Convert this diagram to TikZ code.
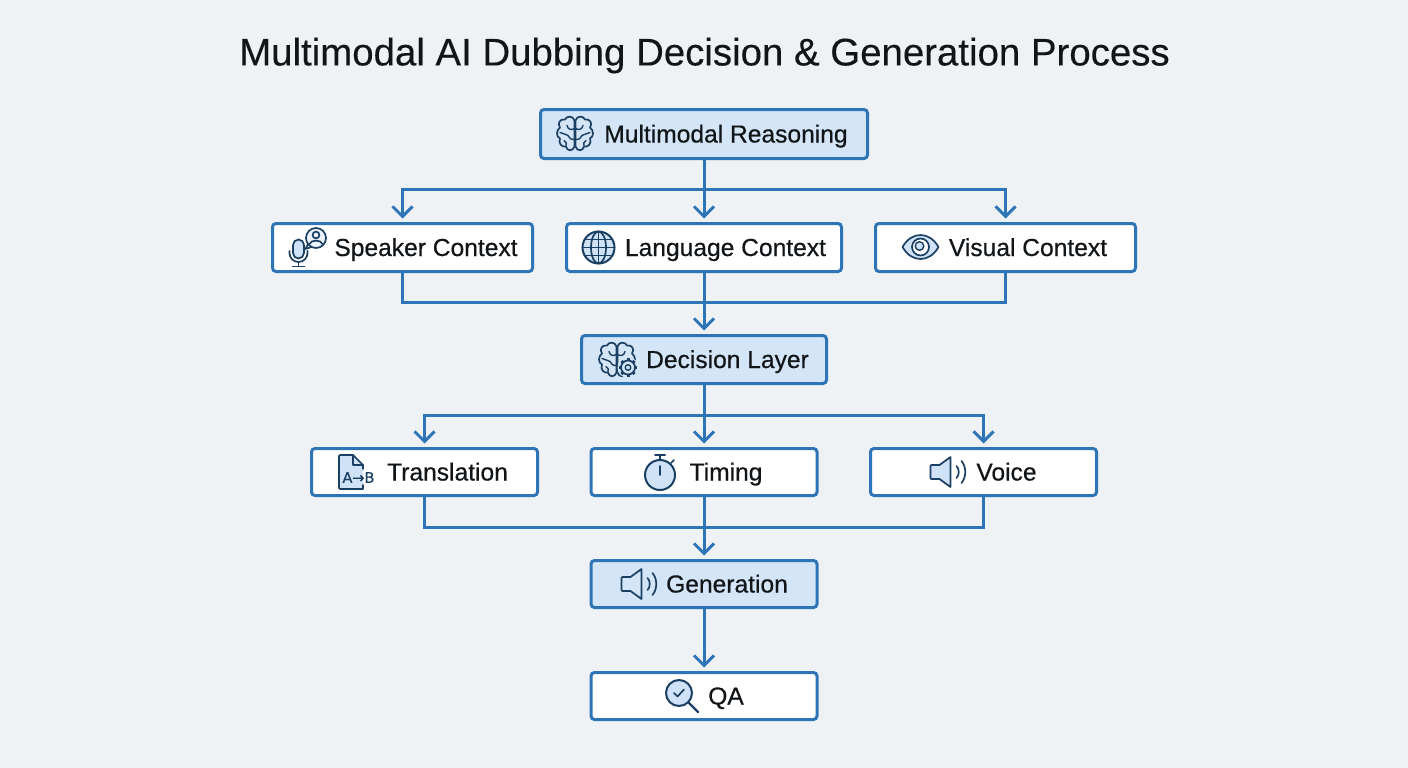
\documentclass[tikz,border=0pt]{standalone}
\usepackage{fontspec}
\usetikzlibrary{arrows.meta}
\setmainfont{Liberation Sans}
\newfontfamily\labfont[FakeBold=0.5]{Liberation Sans}
\newfontfamily\titlefont[FakeBold=0.25]{Liberation Sans}
\newfontfamily\djvfont[FakeBold=0.6]{DejaVu Sans}
\definecolor{bgcol}{HTML}{EEF2F4}
\definecolor{linecol}{HTML}{2E75B8}
\definecolor{hlcol}{HTML}{D4E5F7}
\definecolor{iconcol}{HTML}{1B3F62}
\definecolor{iconfill}{HTML}{CFE2F7}
\definecolor{inkcol}{HTML}{111518}
\tikzset{
  box/.style={draw=linecol,line width=3pt,rounded corners=3.5pt,inner sep=0pt,outer sep=0pt,
    text=inkcol,font=\labfont\fontsize{24.6pt}{28pt}\selectfont,minimum height=49pt,
    text height=20pt,text depth=3pt},
  plainbox/.style={box,fill=white},
  hlbox/.style={box,fill=hlcol},
  conn/.style={draw=linecol,line width=3pt},
  arr/.style={conn,-{Straight Barb[length=10pt,width=20pt,line width=3pt]},shorten >=5pt},
  ic/.style={draw=iconcol,line width=1.7pt,line join=round,line cap=round},
  icthin/.style={draw=iconcol,line width=1.4pt,line join=round,line cap=round},
}
\newcommand{\halfbrain}{%
  \draw[ic] (0.5,-13) .. controls (2,-18) and (8,-18) .. (10,-14)
    .. controls (15,-15) and (18,-10) .. (15,-6)
    .. controls (19,-3) and (19,3) .. (15,5)
    .. controls (17,10) and (13,14) .. (9,13)
    .. controls (8,18) and (2,18) .. (0.5,13) -- cycle;
  \draw[icthin] (0.5,-5) .. controls (4,-3) and (7,-4) .. (8,-8);
  \draw[icthin] (15,-1) .. controls (12,1) and (9,0) .. (7,2);
  \draw[icthin] (0.5,6) .. controls (4,6) and (6,5) .. (7,2);
  \draw[icthin] (9,13) .. controls (8,10) and (9,8) .. (11,7);
}
\newcommand{\brainicon}[2]{%
  \begin{scope}[shift={(#1,#2)}]
    \halfbrain
    \begin{scope}[xscale=-1]\halfbrain\end{scope}
  \end{scope}}
\newcommand{\gearicon}[2]{%
  \begin{scope}[shift={(#1,#2)}]
    \fill[hlcol] (0,0) circle (10.5);
    \foreach \a in {0,45,...,315}{\draw[iconcol,line width=3pt] (\a:7) -- (\a:9.2);}
    \draw[ic,fill=hlcol] (0,0) circle (7);
    \draw[icthin] (0,0) circle (2.8);
  \end{scope}}
\newcommand{\speakericon}[3]{% x, y of centre of left edge, fill
  \begin{scope}[shift={(#1,#2)}]
    \draw[ic,fill=#3] (1,-7) -- (9,-7) -- (20,-15) -- (20,15) -- (9,7) -- (1,7)
       .. controls (0,7) and (0,6) .. (0,5) -- (0,-5) .. controls (0,-6) and (0,-7) .. (1,-7) -- cycle;
    \draw[ic] (26,-6) .. controls (29,-3) and (29,3) .. (26,6);
    \draw[ic] (31,-11) .. controls (36,-5) and (36,5) .. (31,11);
  \end{scope}}
\begin{document}
\begin{tikzpicture}[x=1pt,y=-1pt]
\useasboundingbox (0,0) rectangle (1408,768);
\fill[bgcol] (0,0) rectangle (1408,768);

\node[text=inkcol,font=\titlefont\fontsize{38.4pt}{42pt}\selectfont] (title) at (704.5,55.5) {Multimodal AI Dubbing Decision \& Generation Process};

% nodes
\node[hlbox,minimum width=327pt] (reason) at (704,134) {\hspace*{44pt}Multimodal Reasoning};
\node[plainbox,minimum width=260pt,minimum height=48pt] (speaker) at (402.5,247.5) {\hspace*{47pt}Speaker Context};
\node[plainbox,minimum width=275pt,minimum height=48pt] (language) at (704,247.5) {\hspace*{43pt}Language Context};
\node[plainbox,minimum width=260pt,minimum height=48pt] (visual) at (1005.5,247.5) {\hspace*{45pt}Visual Context};
\node[hlbox,minimum width=245pt,minimum height=48pt] (decision) at (704,359.5) {\hspace*{47pt}Decision Layer};
\node[plainbox,minimum width=226pt,minimum height=47pt] (translation) at (424.5,472) {\hspace*{46pt}Translation};
\node[plainbox,minimum width=226pt,minimum height=47pt] (timing) at (704,472) {\hspace*{44pt}Timing};
\node[plainbox,minimum width=226pt,minimum height=47pt] (voice) at (983.5,472) {\hspace*{46pt}Voice};
\node[hlbox,minimum width=226pt,minimum height=47pt] (generation) at (704,584) {\hspace*{46pt}Generation};
\node[plainbox,minimum width=226pt,minimum height=47pt] (qa) at (704,696) {\hspace*{44pt}QA};

% junctions
\coordinate (b1) at (reason.south |- 0,189);
\coordinate (b1l) at (speaker.north |- b1);
\coordinate (b1r) at (visual.north |- b1);
\coordinate (b2) at (decision.north |- 0,302);
\coordinate (b2l) at (speaker.south |- b2);
\coordinate (b2r) at (visual.south |- b2);
\coordinate (b3) at (decision.south |- 0,415);
\coordinate (b3l) at (translation.north |- b3);
\coordinate (b3r) at (voice.north |- b3);
\coordinate (b4) at (generation.north |- 0,527);
\coordinate (b4l) at (translation.south |- b4);
\coordinate (b4r) at (voice.south |- b4);

% connectors
\draw[conn] (reason.south) -- (b1);
\draw[conn,line cap=rect] (b1l) -- (b1r);
\draw[arr] (b1l) -- (speaker.north);
\draw[arr] (b1) -- (language.north);
\draw[arr] (b1r) -- (visual.north);
\draw[conn,line join=miter] (speaker.south) -- (b2l) -- (b2r) -- (visual.south);
\draw[conn] (language.south) -- (b2);
\draw[arr] (b2) -- (decision.north);
\draw[conn] (decision.south) -- (b3);
\draw[conn,line cap=rect] (b3l) -- (b3r);
\draw[arr] (b3l) -- (translation.north);
\draw[arr] (b3) -- (timing.north);
\draw[arr] (b3r) -- (voice.north);
\draw[conn,line join=miter] (translation.south) -- (b4l) -- (b4r) -- (voice.south);
\draw[conn] (timing.south) -- (b4);
\draw[arr] (b4) -- (generation.north);
\draw[arr] (generation.south) -- (qa.north);

% icons
\brainicon{575}{133.5}
% microphone + speech bubble
\begin{scope}[shift={(298.5,249)}]
  \draw[ic,fill=iconfill] (-5.5,-4) arc (180:360:5.5) -- (5.5,4) arc (0:180:5.5) -- cycle;
  \draw[ic] (-9,2) -- (-9,4) arc (180:0:9) -- (9,2);
  \draw[ic] (0,13) -- (0,17.5);
  \draw[ic] (-6,17.5) -- (6,17.5);
\end{scope}
\begin{scope}[shift={(316,238)}]
  \draw[ic,fill=iconfill!40] (0,0) circle (10);
  \draw[ic] (0,-3) circle (3.4);
  \draw[ic] (-6.5,6) .. controls (-5,1.5) and (5,1.5) .. (6.5,6);
  \draw[ic] (-8,6) -- (-10.5,11) -- (-4.5,9);
\end{scope}
% globe
\begin{scope}[shift={(598.5,247.5)}]
  \draw[ic,fill=iconfill,line width=2pt] (0,0) circle (16);
  \draw[ic] (0,0) ellipse (7.5 and 16);
  \draw[ic] (0,-16) -- (0,16);
  \draw[ic] (-16,0) -- (16,0);
  \draw[ic] (-14,-8) -- (14,-8);
  \draw[ic] (-14,8) -- (14,8);
\end{scope}
% eye
\begin{scope}[shift={(920.5,247)}]
  \draw[ic,fill=iconfill] (-18,0) .. controls (-9,-16) and (9,-16) .. (18,0)
     .. controls (9,16) and (-9,16) .. (-18,0) -- cycle;
  \draw[ic,fill=white] (0,0) circle (8.5);
  \draw[icthin,fill=iconfill] (-1,-1) circle (4.3);
\end{scope}
\brainicon{617}{359.5}
\gearicon{628}{367.5}
% document A->B
\begin{scope}[shift={(339,455)}]
  \fill[iconfill] (2,0) -- (14,0) -- (24,10) -- (24,34) -- (2,34) .. controls (0,34) and (0,34) .. (0,32) -- (0,2) .. controls (0,0) and (0,0) .. (2,0) -- cycle;
  \draw[ic] (24,14) -- (24,10) -- (14,0) -- (2,0) .. controls (0,0) and (0,0) .. (0,2) -- (0,32) .. controls (0,34) and (0,34) .. (2,34) -- (24,34) -- (24,30);
  \draw[ic] (14,0) -- (14,10) -- (24,10);
\end{scope}
\node[inner sep=0pt,text=iconcol,font=\djvfont\fontsize{14.5pt}{16pt}\selectfont] (ab) at (358.5,477.5) {A→B};
% stopwatch
\begin{scope}[shift={(660,475)}]
  \draw[ic,fill=iconfill,line width=2pt] (0,0) circle (15);
  \draw[ic] (0,-15) -- (0,-20);
  \draw[ic,line width=2pt] (-5,-20.5) -- (5,-20.5);
  \draw[ic] (11,-12) -- (14,-15);
  \draw[ic] (0,-9) -- (0,0);
\end{scope}
\speakericon{930.5}{472}{iconfill}
\speakericon{621.5}{584}{hlcol}
% magnifier
\begin{scope}[shift={(679,693)}]
  \draw[ic,line width=2.2pt] (9.5,9.5) -- (19,19);
  \draw[ic,fill=iconfill,line width=2pt] (0,0) circle (13);
  \draw[ic] (-5,0) -- (-1.5,3.5) -- (5,-3.5);
\end{scope}
\end{tikzpicture}
\end{document}
